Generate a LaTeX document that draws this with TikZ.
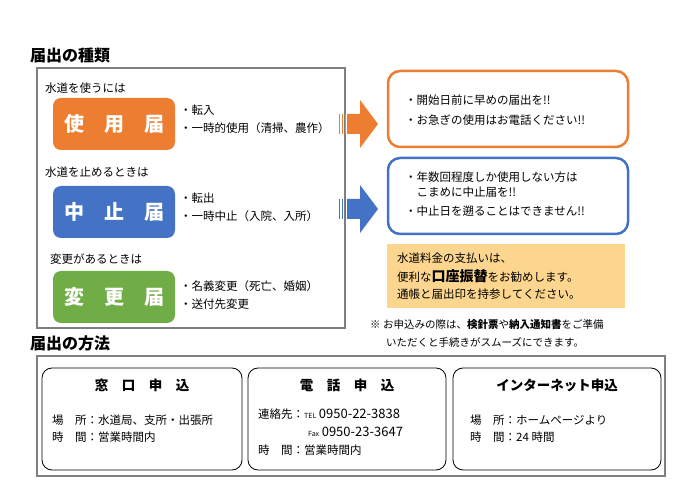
\documentclass[tikz,border=0pt]{standalone}
\usepackage{fontspec}
\setmainfont{Noto Sans CJK JP}
\definecolor{ora}{HTML}{ED7D31}
\definecolor{blu}{HTML}{4472C4}
\definecolor{grn}{HTML}{70AD47}
\definecolor{yel}{HTML}{FCD68E}
\definecolor{gry}{HTML}{7F7F7F}
\begin{document}
\begin{tikzpicture}[x=1pt,y=-1pt,
  txt/.style={anchor=west,inner sep=0pt,font=\fontsize{11.5}{13}\selectfont},
  ttl/.style={anchor=west,inner sep=0pt,font=\fontsize{16}{17}\selectfont\bfseries},
  kind/.style={rounded corners=8pt,minimum width=122pt,minimum height=52pt,text=white,font=\fontsize{20}{21}\selectfont\bfseries,inner sep=0pt},
  note/.style={draw,line width=2.5pt,rounded corners=12pt,fill=white,minimum width=240pt,minimum height=76pt,inner sep=0pt},
  way/.style={draw,thick,rounded corners=10pt,minimum height=102pt,inner sep=0pt},
  wt/.style={inner sep=0pt,font=\fontsize{13.5}{14}\selectfont\bfseries}]
\useasboundingbox (0,0) rectangle (699,494);
\node[ttl] (t1) at (30,55) {届出の種類};
\node[draw=gry,line width=1.5pt,minimum width=308pt,minimum height=260pt,inner sep=0pt] (g) at (191,198) {};
\node[txt] (l1) at (45,88) {水道を使うには};
\node[kind,fill=ora] (k1) at (114,124) {使　用　届};
\node[txt] (b11) at (180,110) {・転入};
\node[txt] (b12) at (180,128) {・一時的使用（清掃、農作）};
\node[txt] (l2) at (45,172) {水道を止めるときは};
\node[kind,fill=blu] (k2) at (114,212) {中　止　届};
\node[txt] (b21) at (180,198) {・転出};
\node[txt] (b22) at (180,216) {・一時中止（入院、入所）};
\node[txt] (l3) at (50,259) {変更があるときは};
\node[kind,fill=grn] (k3) at (114,297) {変　更　届};
\node[txt] (b31) at (180,286) {・名義変更（死亡、婚姻）};
\node[txt] (b32) at (180,304) {・送付先変更};
\foreach \c/\y in {ora/124,blu/209}{
  \fill[\c] (347,\y-10) -- (360,\y-10) -- (360,\y-24) -- (378,\y) -- (360,\y+24) -- (360,\y+10) -- (347,\y+10) -- cycle;
  \foreach \xx in {339,342,345} \fill[\c] (\xx,\y-10) rectangle (\xx+1.2,\y+10);
}
\node[note,draw=ora] (n1) at (508,109) {};
\node[txt] at (405,100) {・開始日前に早めの届出を!!};
\node[txt] at (405,120) {・お急ぎの使用はお電話ください!!};
\node[note,draw=blu] (n2) at (508,196) {};
\node[txt] at (405,177) {・年数回程度しか使用しない方は};
\node[txt] at (405,192) {\hspace{1em}こまめに中止届を!!};
\node[txt] at (405,211) {・中止日を遡ることはできません!!};
\node[fill=yel,minimum width=238pt,minimum height=64pt,inner sep=0pt] (y) at (506,276) {};
\node[txt] at (397,258) {水道料金の支払いは、};
\node[txt] at (397,276) {便利な{\fontsize{14}{15}\selectfont\bfseries 口座振替}をお勧めします。};
\node[txt] at (397,294) {通帳と届出印を持参してください。};
\node[txt,font=\fontsize{10.5}{12}\selectfont] at (370,325) {※\ お申込みの際は、{\bfseries 検針票}や{\bfseries 納入通知書}をご準備};
\node[txt,font=\fontsize{10.5}{12}\selectfont] at (386,342) {いただくと手続きがスムーズにできます。};
\node[ttl] (t2) at (30,343) {届出の方法};
\node[draw=gry,line width=1.5pt,minimum width=628pt,minimum height=120pt,inner sep=0pt] (o) at (351,416) {};
\node[way,minimum width=200pt] (w1) at (142,419) {};
\node[way,minimum width=198pt] (w2) at (347,419) {};
\node[way,minimum width=208pt] (w3) at (557,419) {};
\node[wt] at (142,385) {窓　口　申　込};
\node[txt] at (52,420) {場　所：水道局、支所・出張所};
\node[txt] at (52,437) {時　間：営業時間内};
\node[wt] at (347,385) {電　話　申　込};
\node[txt] at (258,414) {連絡先：{\scriptsize TEL} {\fontsize{13}{14}\selectfont 0950-22-3838}};
\node[txt] at (308,432) {{\scriptsize Fax} {\fontsize{13}{14}\selectfont 0950-23-3647}};
\node[txt] at (258,450) {時　間：営業時間内};
\node[wt] at (557,385) {インターネット申込};
\node[txt] at (470,420) {場　所：ホームページより};
\node[txt] at (470,437) {時　間：24 時間};
\end{tikzpicture}
\end{document}
